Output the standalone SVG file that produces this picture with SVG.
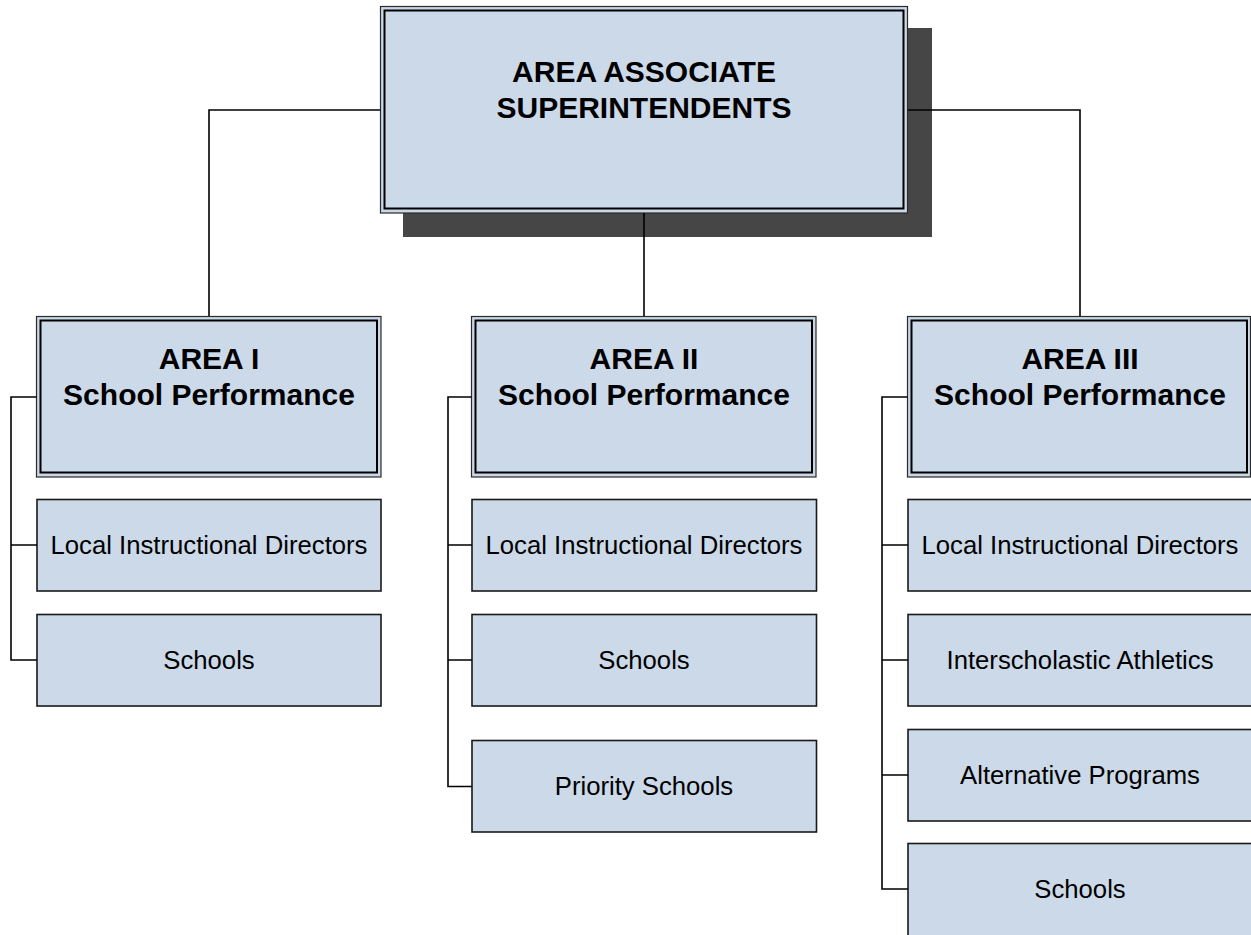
<svg xmlns="http://www.w3.org/2000/svg" width="1251" height="935" viewBox="0 0 1251 935">
<style>
.outer{fill:#cad7e6;stroke:#2a2a2a;stroke-width:1.2}
.inner{fill:#cbd9e8;stroke:#000;stroke-width:2}
.box{fill:#cbd9e8;stroke:#1a1a1a;stroke-width:1.6}
.shadow{fill:#464646}
.title{font-family:"Liberation Sans",Arial,sans-serif;font-weight:bold;font-size:30px;fill:#000;text-anchor:middle}
.label{font-family:"Liberation Sans",Arial,sans-serif;font-size:25.7px;fill:#000;text-anchor:middle}
.conn{fill:none;stroke:#000;stroke-width:1.6}
</style>
<rect width="1251" height="935" fill="#fff"/>
<g id="top">
<rect class="shadow" x="403" y="28" width="529" height="209"/>
<rect class="outer" x="380.5" y="6.5" width="527" height="206.5"/>
<rect class="inner" x="384.5" y="10.5" width="519" height="198"/>
<text class="title" x="644" y="82">AREA ASSOCIATE</text>
<text class="title" x="644" y="118">SUPERINTENDENTS</text>
</g>
<g id="area1">
<rect class="outer" x="36.5" y="316.5" width="344.5" height="160.5"/>
<rect class="inner" x="40.5" y="320.5" width="336.5" height="152"/>
<text class="title" x="209" y="369">AREA I</text>
<text class="title" x="209" y="405">School Performance</text>
</g>
<g id="area2">
<rect class="outer" x="471.5" y="316.5" width="344.5" height="160.5"/>
<rect class="inner" x="475.5" y="320.5" width="336.5" height="152"/>
<text class="title" x="644" y="369">AREA II</text>
<text class="title" x="644" y="405">School Performance</text>
</g>
<g id="area3">
<rect class="outer" x="907.5" y="316.5" width="343" height="160.5"/>
<rect class="inner" x="911.5" y="320.5" width="335.5" height="152"/>
<text class="title" x="1080" y="369">AREA III</text>
<text class="title" x="1080" y="405">School Performance</text>
</g>
<g id="a1-lid"><rect class="box" x="37" y="499.5" width="344" height="91.5"/><text class="label" x="209" y="554">Local Instructional Directors</text></g>
<g id="a1-schools"><rect class="box" x="37" y="614.5" width="344" height="91.5"/><text class="label" x="209" y="669">Schools</text></g>
<g id="a2-lid"><rect class="box" x="472" y="499.5" width="344.5" height="91.5"/><text class="label" x="644" y="554">Local Instructional Directors</text></g>
<g id="a2-schools"><rect class="box" x="472" y="614.5" width="344.5" height="91.5"/><text class="label" x="644" y="669">Schools</text></g>
<g id="a2-priority"><rect class="box" x="472" y="740.5" width="344.5" height="91.5"/><text class="label" x="644" y="795">Priority Schools</text></g>
<g id="a3-lid"><rect class="box" x="908" y="499.5" width="345" height="91.5"/><text class="label" x="1080" y="554">Local Instructional Directors</text></g>
<g id="a3-athletics"><rect class="box" x="908" y="614.5" width="345" height="91.5"/><text class="label" x="1080" y="669">Interscholastic Athletics</text></g>
<g id="a3-alt"><rect class="box" x="908" y="729.5" width="345" height="91.5"/><text class="label" x="1080" y="784">Alternative Programs</text></g>
<g id="a3-schools"><rect class="box" x="908" y="843.5" width="345" height="100"/><text class="label" x="1080" y="898">Schools</text></g>
<g id="connectors">
<path class="conn" d="M380,110 H209 V316"/>
<path class="conn" d="M908,110 H1080 V316"/>
<path class="conn" d="M644,213 V316"/>
<path class="conn" d="M36.5,397 H11 V660 H37 M11,545 H37"/>
<path class="conn" d="M471.5,397 H448 V786.5 H472 M448,545 H472 M448,660 H472"/>
<path class="conn" d="M907.5,397 H882 V889 H908 M882,545 H908 M882,660 H908 M882,775 H908"/>
</g>
</svg>
